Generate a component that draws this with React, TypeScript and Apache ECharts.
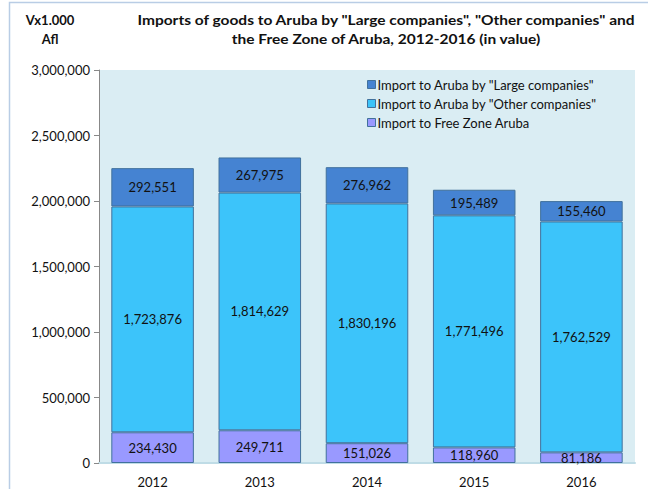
import React, { useEffect, useRef } from "react";
import * as echarts from "echarts";

const years = ["2012", "2013", "2014", "2015", "2016"];
const freeZone = [234430, 249711, 151026, 118960, 81186];
const otherCompanies = [1723876, 1814629, 1830196, 1771496, 1762529];
const largeCompanies = [292551, 267975, 276962, 195489, 155460];
const yTicks = [0, 500000, 1000000, 1500000, 2000000, 2500000, 3000000];

const FONT = "Lato";
const fmt = (v: number) => v.toLocaleString("en-US");

export default function App() {
  const ref = useRef<HTMLDivElement>(null);
  useEffect(() => {
    const chart = echarts.init(ref.current!, undefined, { renderer: "svg" });
    const border = "#41719C";
    const label = {
      show: true,
      position: "inside" as const,
      color: "#111",
      fontFamily: FONT,
      fontSize: 13,
      formatter: (p: any) => fmt(p.value),
    };
    const boldText = (text: string, x: number, y: number, size: number, sx: number) => ({
      type: "text",
      x,
      y,
      scaleX: sx,
      style: {
        text,
        align: "center",
        verticalAlign: "middle",
        fontFamily: FONT,
        fontWeight: "bold",
        fontSize: size,
        fill: "#111",
      },
    });
    chart.setOption({
      animation: false,
      textStyle: { fontFamily: FONT },
      graphic: [
        {
          type: "rect",
          shape: { x: 9.5, y: 2.5, width: 700, height: 600 },
          style: { fill: "none", stroke: "#B9CDE5", lineWidth: 1.5 },
          silent: true,
        },
        boldText("Vx1.000", 50, 20, 13, 1.0),
        boldText("Afl", 50, 39, 13, 1.0),
        boldText('Imports of goods to Aruba by "Large companies", "Other companies" and', 386, 19.5, 13.5, 1.15),
        boldText("the Free Zone of Aruba, 2012-2016 (in value)", 386, 39, 13.5, 1.15),
      ],
      legend: {
        orient: "vertical",
        left: 362,
        top: 73,
        itemWidth: 8,
        itemHeight: 8,
        itemGap: 6,
        icon: "rect",
        data: [
          'Import to Aruba by "Large companies"',
          'Import to Aruba by "Other companies"',
          "Import to Free Zone Aruba",
        ],
        textStyle: { fontFamily: FONT, fontSize: 13, color: "#111", padding: [0, 0, 0, -3] },
        itemStyle: { borderColor: border, borderWidth: 1 },
      },
      grid: { left: 99, right: 13, top: 70, bottom: 26, show: true, backgroundColor: "#DAEDF3", borderWidth: 0 },
      xAxis: {
        type: "category",
        data: years,
        axisTick: { show: false },
        axisLine: { lineStyle: { color: "#BFDCE6", width: 2 } },
        axisLabel: { color: "#111", fontSize: 13, fontFamily: FONT, margin: 12 },
      },
      yAxis: {
        type: "value",
        min: 0,
        max: yTicks[yTicks.length - 1],
        interval: 500000,
        splitLine: { show: false },
        axisLine: { show: true, lineStyle: { color: "#888" } },
        axisTick: { show: true, length: 5, lineStyle: { color: "#888" } },
        axisLabel: { color: "#111", fontSize: 13, fontFamily: FONT, margin: 9, formatter: (v: number) => fmt(v) },
      },
      series: [
        {
          name: "Import to Free Zone Aruba",
          type: "bar",
          stack: "t",
          data: freeZone,
          barWidth: "77%",
          itemStyle: { color: "#9999FF", borderColor: border, borderWidth: 1 },
          label,
        },
        {
          name: 'Import to Aruba by "Other companies"',
          type: "bar",
          stack: "t",
          data: otherCompanies,
          itemStyle: { color: "#3CC4FA", borderColor: border, borderWidth: 1 },
          label,
        },
        {
          name: 'Import to Aruba by "Large companies"',
          type: "bar",
          stack: "t",
          data: largeCompanies,
          itemStyle: { color: "#4583D2", borderColor: border, borderWidth: 1 },
          label,
        },
      ],
    });
    return () => chart.dispose();
  }, []);
  return (
    <div
      ref={ref}
      style={{ position: "fixed", left: 0, top: 0, width: 648, height: 489, background: "#fff" }}
    />
  );
}
